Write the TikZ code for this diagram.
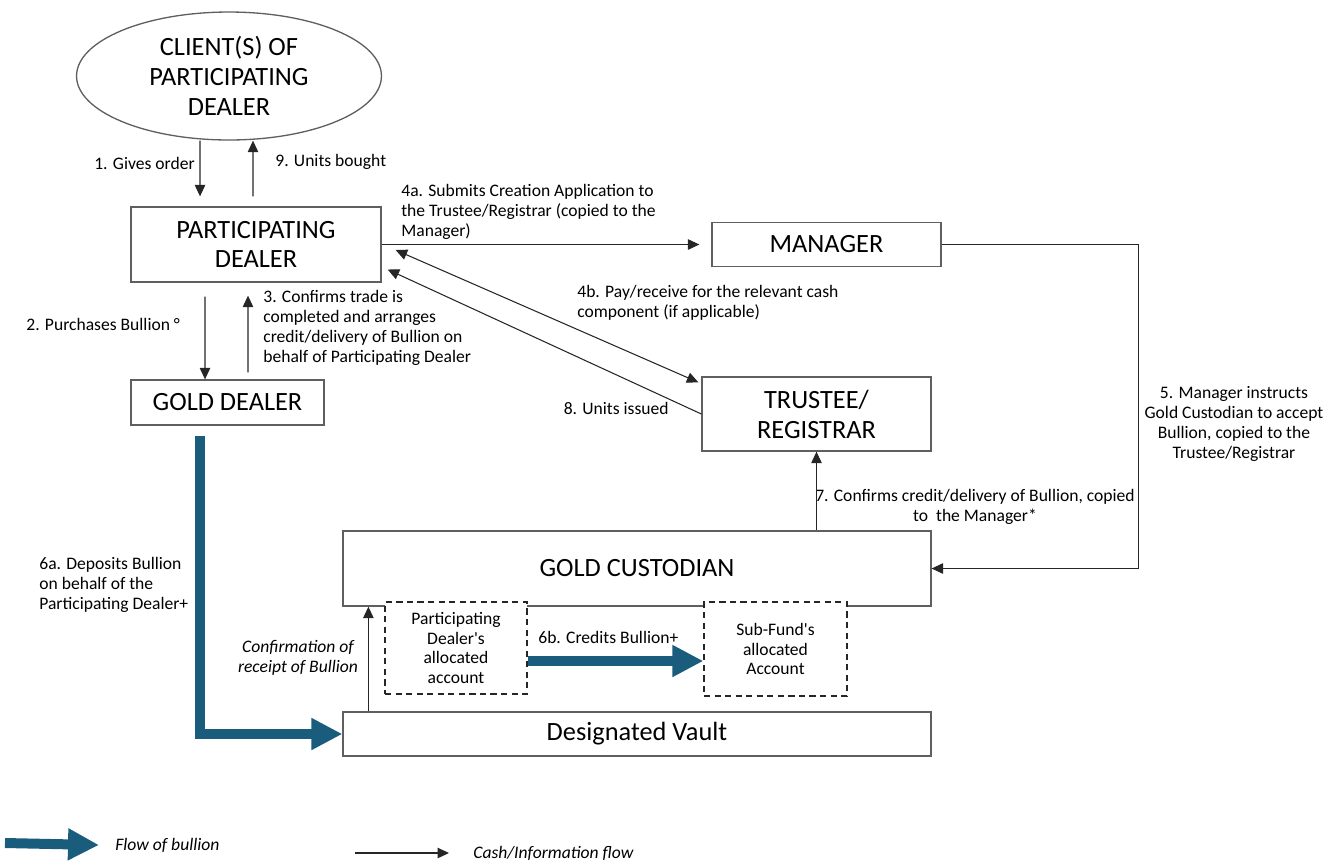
\documentclass[tikz,border=0pt]{standalone}
\usepackage{fontspec}
\setmainfont{Carlito}
\usepackage{tikz}
\usetikzlibrary{positioning}
\usetikzlibrary{shapes.geometric}
\usetikzlibrary{arrows.meta}
\definecolor{bullionblue}{RGB}{26,92,124}
\definecolor{boxgray}{RGB}{95,95,95}

\begin{document}
\begin{tikzpicture}[x=0.02cm,y=-0.02cm,
	entity/.style={draw=boxgray, line width=0.75pt, fill=white, inner sep=0pt, align=center, font=\fontsize{15}{17}\selectfont},
	account/.style={draw=black!85, dash pattern=on 3.5pt off 2.5pt, line width=0.75pt, fill=white, inner sep=0pt, align=center, font=\fontsize{10}{11.3}\selectfont},
	lbl/.style={inner sep=0pt, font=\fontsize{10}{11.3}\selectfont},
	lblit/.style={inner sep=0pt, font=\fontsize{10}{11.3}\selectfont\itshape},
	flow/.style={-{Triangle[length=0.23cm,width=0.21cm]}, line width=0.6pt, draw=black!85},
	flowboth/.style={{Triangle[length=0.23cm,width=0.21cm]}-{Triangle[length=0.23cm,width=0.21cm]}, line width=0.6pt, draw=black!85},
	bullion/.style={-{Triangle[length=0.62cm,width=0.6cm]}, line width=0.2cm, draw=bullionblue},
	]
	\useasboundingbox (0,0) rectangle (1339,860);
	%Nodes
	\node[entity, ellipse, minimum width=6.1cm, minimum height=2.56cm] (client) at (229,76) {CLIENT(S) OF\\PARTICIPATING\\DEALER};
	\node[entity, minimum width=5cm, minimum height=1.5cm]      (pd)      at (256,244.5) {PARTICIPATING\\DEALER};
	\node[entity, minimum width=3.86cm, minimum height=0.9cm]   (gd)      at (227.5,402.5) {GOLD DEALER};
	\node[entity, minimum width=4.58cm, minimum height=0.88cm]  (mgr)     at (826.5,244.5) {MANAGER};
	\node[entity, minimum width=4.58cm, minimum height=1.48cm]  (trustee) at (816.5,414) {TRUSTEE/\\REGISTRAR};
	\node[entity, minimum width=11.76cm, minimum height=1.5cm]  (gc)      at (637,568.5) {GOLD CUSTODIAN};
	\node[entity, minimum width=11.76cm, minimum height=0.88cm] (vault)   at (637,734) {Designated Vault};
	\node[account, minimum width=2.84cm, minimum height=1.84cm] (pdacc)   at (456,648) {Participating\\Dealer\textquotesingle s\\allocated\\account};
	\node[account, minimum width=2.86cm, minimum height=1.88cm] (sfacc)   at (775.5,649) {Sub-Fund\textquotesingle s\\allocated\\Account};
	
	%Labels
	\node[lbl, anchor=east]              (l1)    at (195,163) {1. Gives order};
	\node[lbl, anchor=west]              (l9)    at (275,162) {9. Units bought};
	\node[lbl, anchor=west]              (l2)    at (26,324)  {2. Purchases Bullion °};
	\node[lbl, anchor=west, align=left]  (l3)    at (263,328) {3. Confirms trade is\\completed and arranges\\credit/delivery of Bullion on\\behalf of Participating Dealer};
	\node[lbl, anchor=west, align=left]  (l4a)   at (401,212) {4a. Submits Creation Application to\\the Trustee/Registrar (copied to the\\Manager)};
	\node[lbl, anchor=west, align=left]  (l4b)   at (577,303) {4b. Pay/receive for the relevant cash\\component (if applicable)};
	\node[lbl, anchor=east]              (l8)    at (669,408) {8. Units issued};
	\node[lbl, align=center]             (l5)    at (1234,424) {5. Manager instructs\\Gold Custodian to accept\\Bullion, copied to the\\Trustee/Registrar};
	\node[lbl, align=center]             (l7)    at (975,507) {7. Confirms credit/delivery of Bullion, copied\\to\ \ the Manager*};
	\node[lbl, anchor=west, align=left]  (l6a)   at (39,585)  {6a. Deposits Bullion\\on behalf of the\\Participating Dealer+};
	\node[lblit, align=center]           (lconf) at (298,658) {Confirmation of\\receipt of Bullion};
	\node[lbl, anchor=west]              (l6b)   at (538,637) {6b. Credits Bullion+};
	\node[lblit, anchor=west]            (legbull) at (115,845) {Flow of bullion};
	\node[lblit, anchor=west]            (legcash) at (473,853) {Cash/Information flow};
	\coordinate (legb) at (5,843);
	\coordinate (legc) at (355,853);
	
	%Lines
	\draw[flow] ([xshift=-0.58cm]client.south) -- ([xshift=-1.12cm,yshift=0.2cm]pd.north);
	\draw[flow] ([xshift=-0.06cm,yshift=0.2cm]pd.north) -- ([xshift=0.48cm]client.south);
	\draw[flow] ([xshift=-1.02cm,yshift=-0.28cm]pd.south) -- ([xshift=-0.45cm]gd.north);
	\draw[flow] ([xshift=0.41cm,yshift=0.14cm]gd.north) -- ([xshift=-0.16cm,yshift=-0.26cm]pd.south);
	\draw[flow] (pd.east) -- ([xshift=-0.24cm]mgr.west);
	\draw[flowboth] ([xshift=0.28cm,yshift=-0.11cm]pd.east) -- ([xshift=-0.06cm,yshift=-0.12cm]trustee.north west);
	\draw[flow] (trustee.west) -- ([xshift=0.12cm,yshift=-0.5cm]pd.east);
	\draw[flow] (mgr.east) -- ++(3.94cm,0) |- (gc.east);
	\draw[flow] (gc.north -| trustee.south) -- (trustee.south);
	\draw[flow] ([xshift=0.52cm]vault.north west) -- ([xshift=0.52cm]gc.south west);
	\draw[bullion] ([xshift=-0.55cm,yshift=-0.2cm]gd.south) |- (vault.west);
	\draw[bullion] ([yshift=-0.26cm]pdacc.east) -- ([yshift=-0.26cm]pdacc.east -| sfacc.west);
	\draw[bullion] (legb) -- ([xshift=-0.32cm]legbull.west);
	\draw[flow] (legc) -- ([xshift=-0.48cm]legcash.west);
\end{tikzpicture}
\end{document}
